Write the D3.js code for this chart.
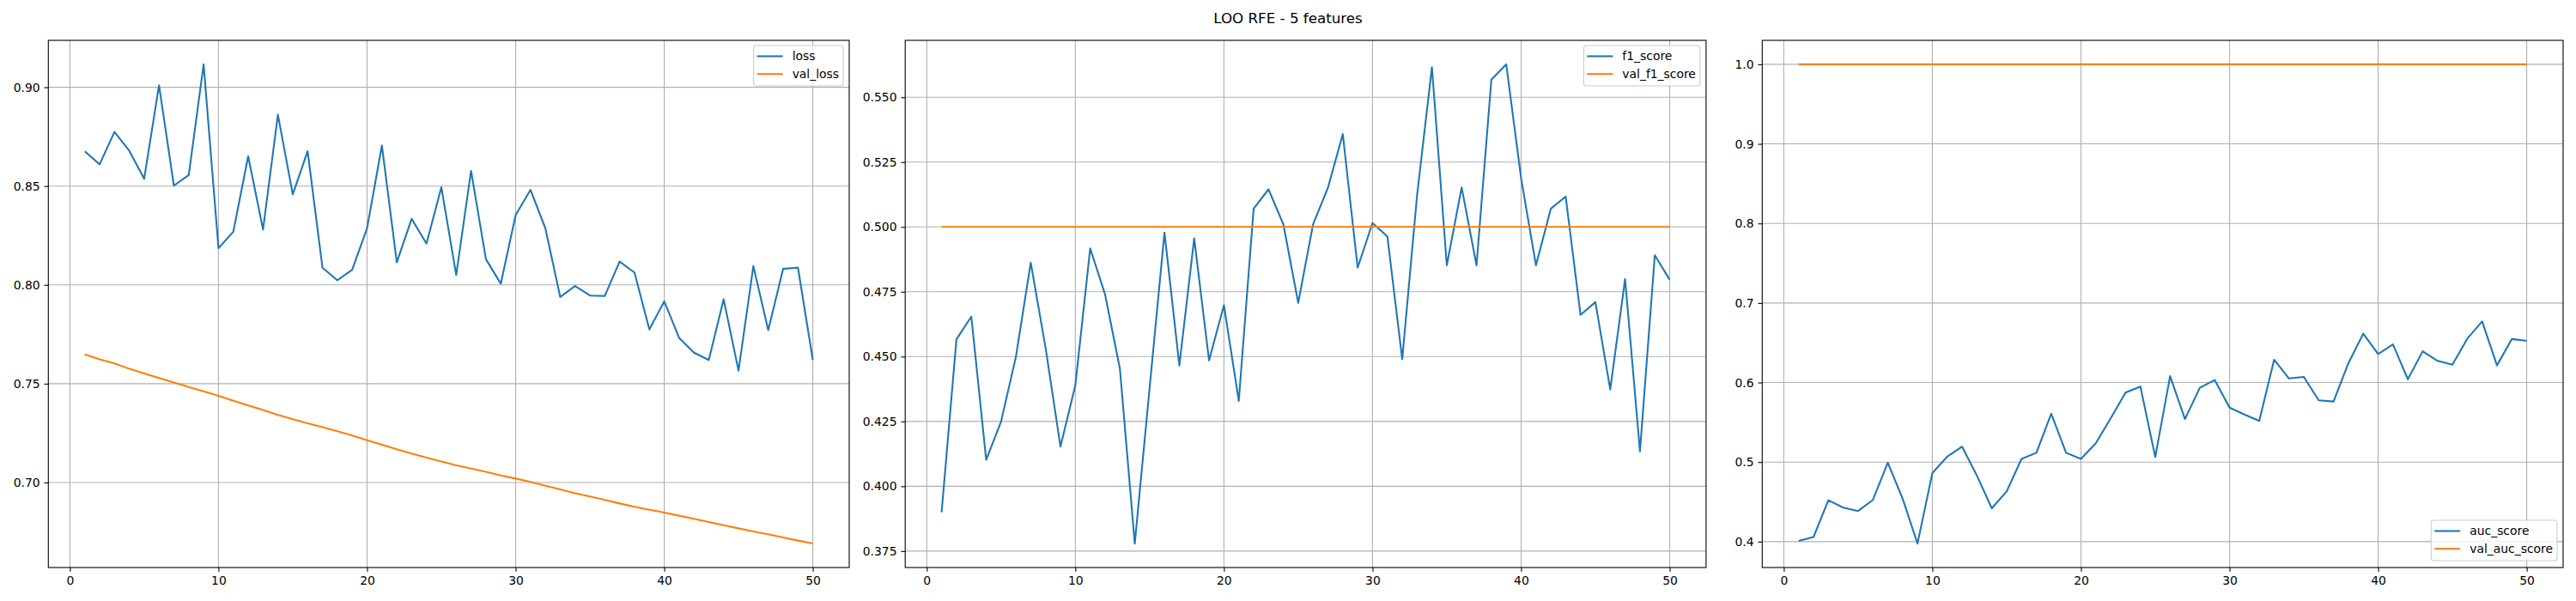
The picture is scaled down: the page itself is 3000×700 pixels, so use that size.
<!DOCTYPE html>
<html>
<head>
<meta charset="utf-8">
<script src="https://cdn.jsdelivr.net/npm/d3@7"></script>
<style>
    body { margin: 0; background: #fff; }
    svg { display: block; }
</style>
</head>
<body>
<div id="figure"></div>
<script>
const epochs = [1, 2, 3, 4, 5, 6, 7, 8, 9, 10, 11, 12, 13, 14, 15, 16, 17, 18, 19, 20,
    21, 22, 23, 24, 25, 26, 27, 28, 29, 30, 31, 32, 33, 34, 35, 36, 37, 38, 39, 40,
    41, 42, 43, 44, 45, 46, 47, 48, 49, 50];

const loss = [0.8676, 0.8610, 0.8774, 0.8678, 0.8537, 0.9010, 0.8502, 0.8556, 0.9116, 0.8186,
    0.8269, 0.8651, 0.8280, 0.8861, 0.8458, 0.8676, 0.8087, 0.8023, 0.8077, 0.8286,
    0.8705, 0.8114, 0.8334, 0.8209, 0.8494, 0.8050, 0.8577, 0.8130, 0.8006, 0.8353,
    0.8481, 0.8286, 0.7939, 0.7994, 0.7946, 0.7944, 0.8118, 0.8062, 0.7774, 0.7917,
    0.7732, 0.7657, 0.7620, 0.7927, 0.7566, 0.8095, 0.7771, 0.8081, 0.8087, 0.7620];
const valLoss = [0.7648, 0.7623, 0.7603, 0.7575, 0.7552, 0.7529, 0.7506, 0.7483, 0.7461, 0.7439,
    0.7414, 0.7390, 0.7367, 0.7342, 0.7320, 0.7300, 0.7280, 0.7259, 0.7238, 0.7214,
    0.7191, 0.7168, 0.7146, 0.7126, 0.7106, 0.7087, 0.7070, 0.7054, 0.7036, 0.7020,
    0.7003, 0.6984, 0.6965, 0.6946, 0.6929, 0.6912, 0.6894, 0.6877, 0.6862, 0.6848,
    0.6832, 0.6816, 0.6800, 0.6784, 0.6768, 0.6752, 0.6738, 0.6722, 0.6706, 0.6691];

const f1Score = [0.3900, 0.4567, 0.4654, 0.4102, 0.4249, 0.4499, 0.4862, 0.4533, 0.4153, 0.4389,
    0.4917, 0.4740, 0.4453, 0.3779, 0.4380, 0.4978, 0.4466, 0.4956, 0.4485, 0.4698,
    0.4329, 0.5070, 0.5145, 0.5010, 0.4707, 0.5010, 0.5151, 0.5358, 0.4843, 0.5015,
    0.4963, 0.4490, 0.5122, 0.5616, 0.4852, 0.5152, 0.4852, 0.5568, 0.5627, 0.5188,
    0.4852, 0.5070, 0.5117, 0.4661, 0.4710, 0.4373, 0.4799, 0.4135, 0.4891, 0.4796];
const valF1Score = [0.5, 0.5, 0.5, 0.5, 0.5, 0.5, 0.5, 0.5, 0.5, 0.5,
    0.5, 0.5, 0.5, 0.5, 0.5, 0.5, 0.5, 0.5, 0.5, 0.5,
    0.5, 0.5, 0.5, 0.5, 0.5, 0.5, 0.5, 0.5, 0.5, 0.5,
    0.5, 0.5, 0.5, 0.5, 0.5, 0.5, 0.5, 0.5, 0.5, 0.5,
    0.5, 0.5, 0.5, 0.5, 0.5, 0.5, 0.5, 0.5, 0.5, 0.5];

const aucScore = [0.4010, 0.4058, 0.4520, 0.4428, 0.4385, 0.4525, 0.4992, 0.4539, 0.3976, 0.4862,
    0.5069, 0.5194, 0.4828, 0.4419, 0.4631, 0.5040, 0.5117, 0.5608, 0.5117, 0.5040,
    0.5237, 0.5550, 0.5873, 0.5950, 0.5064, 0.6080, 0.5541, 0.5935, 0.6032, 0.5685,
    0.5598, 0.5517, 0.6287, 0.6051, 0.6070, 0.5777, 0.5762, 0.6244, 0.6614, 0.6359,
    0.6480, 0.6041, 0.6393, 0.6273, 0.6224, 0.6552, 0.6768, 0.6215, 0.6547, 0.6523];
const valAucScore = [1.0, 1.0, 1.0, 1.0, 1.0, 1.0, 1.0, 1.0, 1.0, 1.0,
    1.0, 1.0, 1.0, 1.0, 1.0, 1.0, 1.0, 1.0, 1.0, 1.0,
    1.0, 1.0, 1.0, 1.0, 1.0, 1.0, 1.0, 1.0, 1.0, 1.0,
    1.0, 1.0, 1.0, 1.0, 1.0, 1.0, 1.0, 1.0, 1.0, 1.0,
    1.0, 1.0, 1.0, 1.0, 1.0, 1.0, 1.0, 1.0, 1.0, 1.0];

const xTicks = [0, 10, 20, 30, 40, 50];
const lossTicks = [0.70, 0.75, 0.80, 0.85, 0.90];
const f1Ticks = [0.375, 0.400, 0.425, 0.450, 0.475, 0.500, 0.525, 0.550];
const aucTicks = [0.4, 0.5, 0.6, 0.7, 0.8, 0.9, 1.0];

const title = "LOO RFE - 5 features";

const panels = [
    { left: 56.3, names: ["loss", "val_loss"], series: [loss, valLoss], ticks: lossTicks, fmt: ".2f", legend: "upper" },
    { left: 1054.2, names: ["f1_score", "val_f1_score"], series: [f1Score, valF1Score], ticks: f1Ticks, fmt: ".3f", legend: "upper" },
    { left: 2052.3, names: ["auc_score", "val_auc_score"], series: [aucScore, valAucScore], ticks: aucTicks, fmt: ".1f", legend: "lower" }
];

const colors = ["#1f77b4", "#ff7f0e"];
const font = "DejaVu Sans, sans-serif";
const fontSize = 13.9;
const panelWidth = 932.7;
const plotTop = 47;
const plotBottom = 661;

const svg = d3.select("#figure")
    .append("svg")
    .attr("width", 3000)
    .attr("height", 700);

svg.append("rect").attr("width", 3000).attr("height", 700).attr("fill", "#fff");

svg.append("text")
    .attr("x", 1500)
    .attr("y", 21.4)
    .attr("dy", "0.35em")
    .attr("text-anchor", "middle")
    .style("font-family", font)
    .style("font-size", "16.7px")
    .text(title);

// matplotlib style 5% margins on both axes
function paddedDomain(values) {
    const [lo, hi] = d3.extent(values);
    const pad = (hi - lo) * 0.05;
    return [lo - pad, hi + pad];
}

panels.forEach(p => {
    const g = svg.append("g");

    const x = d3.scaleLinear()
        .domain(paddedDomain(epochs))
        .range([p.left, p.left + panelWidth]);
    const y = d3.scaleLinear()
        .domain(paddedDomain(p.series.flat()))
        .range([plotBottom, plotTop]);

    // grid
    g.append("g").selectAll("line")
        .data(xTicks)
        .join("line")
        .attr("x1", d => x(d)).attr("x2", d => x(d))
        .attr("y1", plotTop).attr("y2", plotBottom)
        .attr("stroke", "#b0b0b0")
        .attr("stroke-width", 1.1);
    g.append("g").selectAll("line")
        .data(p.ticks)
        .join("line")
        .attr("x1", p.left).attr("x2", p.left + panelWidth)
        .attr("y1", d => y(d)).attr("y2", d => y(d))
        .attr("stroke", "#b0b0b0")
        .attr("stroke-width", 1.1);

    // lines
    p.series.forEach((values, i) => {
        g.append("path")
            .datum(values)
            .attr("fill", "none")
            .attr("stroke", colors[i])
            .attr("stroke-width", 2.08)
            .attr("stroke-linejoin", "round")
            .attr("d", d3.line()
                .x((_, j) => x(epochs[j]))
                .y(d => y(d)));
    });

    // axes
    const xAxis = g.append("g")
        .attr("transform", "translate(0," + plotBottom + ")")
        .call(d3.axisBottom(x).tickValues(xTicks).tickSize(4.86).tickPadding(4.86).tickSizeOuter(0).tickFormat(d3.format("d")));
    const yAxis = g.append("g")
        .attr("transform", "translate(" + p.left + ",0)")
        .call(d3.axisLeft(y).tickValues(p.ticks).tickSize(4.86).tickPadding(4.86).tickSizeOuter(0).tickFormat(d3.format(p.fmt)));
    [xAxis, yAxis].forEach(a => {
        a.select(".domain").remove();
        a.attr("font-family", font).attr("font-size", fontSize);
        a.selectAll(".tick line").attr("stroke", "#000").attr("stroke-width", 1.1);
        a.selectAll(".tick text").attr("fill", "#000");
    });

    // spines
    g.append("rect")
        .attr("x", p.left).attr("y", plotTop)
        .attr("width", panelWidth).attr("height", plotBottom - plotTop)
        .attr("fill", "none")
        .attr("stroke", "#000")
        .attr("stroke-width", 1.1);

    // legend
    const lg = g.append("g");
    const frame = lg.append("rect")
        .attr("rx", 3).attr("ry", 3)
        .attr("fill", "#fff").attr("fill-opacity", 0.8)
        .attr("stroke", "#cccccc").attr("stroke-width", 1.1);
    const labels = p.names.map((name, i) => {
        const ry = 12.5 + i * 20.7;
        lg.append("line")
            .attr("x1", 4).attr("x2", 34)
            .attr("y1", ry).attr("y2", ry)
            .attr("stroke", colors[i])
            .attr("stroke-width", 2.08);
        return lg.append("text")
            .attr("x", 45).attr("y", ry)
            .attr("dy", "0.35em")
            .style("font-family", font)
            .style("font-size", fontSize + "px")
            .text(name);
    });
    const textWidth = d3.max(labels, t => t.node().getComputedTextLength());
    const boxW = 45 + textWidth + 5;
    const boxH = 47;
    frame.attr("width", boxW).attr("height", boxH);
    const lx = p.left + panelWidth - 7 - boxW;
    const ly = p.legend === "upper" ? plotTop + 6 : plotBottom - 8 - boxH;
    lg.attr("transform", "translate(" + lx + "," + ly + ")");
});
</script>
</body>
</html>
